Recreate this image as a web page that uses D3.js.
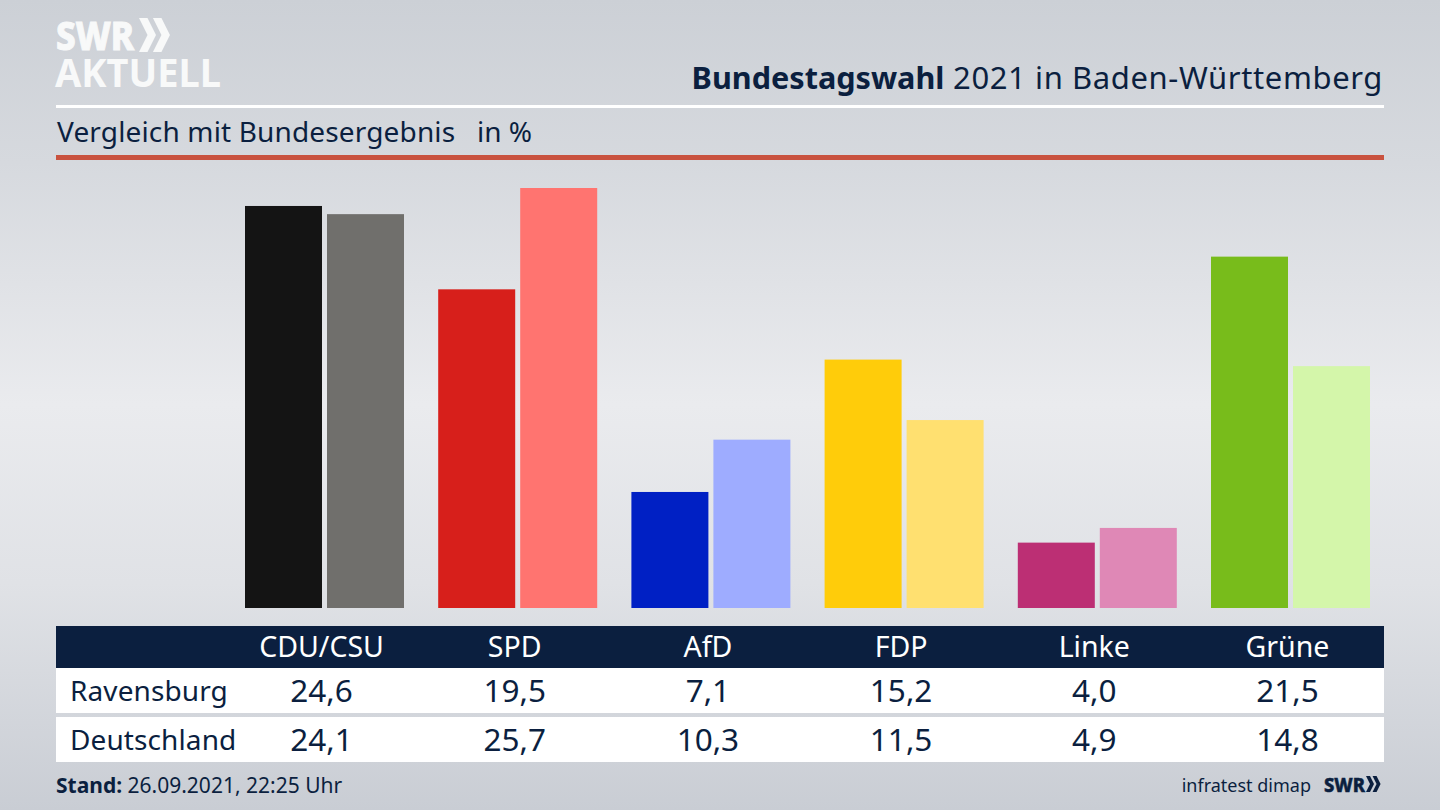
<!DOCTYPE html>
<html>
<head>
<meta charset="utf-8">
<script src="https://cdnjs.cloudflare.com/ajax/libs/d3/7.8.5/d3.min.js"></script>
<style>
html, body { margin: 0; padding: 0; background: #ccd0d7; }
svg { display: block; }
text { font-family: "Noto Sans", sans-serif; fill: #0b1f3f; }
</style>
</head>
<body>
<svg id="chart" width="1440" height="810"></svg>
<script>
var parties = ['CDU/CSU', 'SPD', 'AfD', 'FDP', 'Linke', 'Grüne'];
var ravensburg = [24.6, 19.5, 7.1, 15.2, 4.0, 21.5];
var deutschland = [24.1, 25.7, 10.3, 11.5, 4.9, 14.8];
var darkColors = ['#141414', '#d71f1b', '#0020c4', '#ffcc0a', '#bc2f74', '#78bc1b'];
var lightColors = ['#706f6c', '#ff7470', '#9eacff', '#ffe070', '#df88b6', '#d4f6aa'];
var rowNames = ['Ravensburg', 'Deutschland'];

var navy = '#0b1f3f';
var svg = d3.select('#chart');

// background, lightest just above the middle
var defs = svg.append('defs');
var grad = defs.append('linearGradient').attr('id', 'bg')
    .attr('x1', 0).attr('y1', 0).attr('x2', 0).attr('y2', 1);
[[0, '#ccd0d6'], [0.2, '#d6d9de'], [0.5, '#eaebee'], [0.72, '#e0e2e6'], [1, '#c9cdd4']].forEach(function(s) {
    grad.append('stop').attr('offset', s[0]).attr('stop-color', s[1]);
});
svg.append('rect').attr('width', 1440).attr('height', 810).attr('fill', 'url(#bg)');

// header
function drawChevrons(g, x, y, h, color) {
    var w = h * 0.25;
    var t = h * 0.25;
    [0, h * 0.41].forEach(function(dx) {
        g.append('path')
            .attr('d', 'M' + (x + dx) + ',' + y + 'h' + t + 'l' + w + ',' + (h / 2) + 'l' + (-w) + ',' + (h / 2) + 'h' + (-t) + 'l' + w + ',' + (-h / 2) + 'z')
            .attr('fill', color);
    });
}

// one text element, the two logo lines sit closer than their line boxes
var logo = svg.append('g');
var logoText = logo.append('text').style('fill', '#f8f9f9');
logoText.append('tspan').attr('x', 56).attr('y', 50).text('SWR')
    .style('font-size', '40px').style('font-weight', 800)
    .style('stroke', '#f8f9f9').style('stroke-width', '1px')
    .attr('textLength', 78).attr('lengthAdjust', 'spacingAndGlyphs');
logoText.append('tspan').attr('x', 55).attr('y', 87).text('AKTUELL')
    .style('font-size', '40px').style('font-weight', 700)
    .attr('textLength', 166).attr('lengthAdjust', 'spacingAndGlyphs');
drawChevrons(logo, 139, 18, 34, '#f8f9f9');

var title = svg.append('text').attr('x', 1383).attr('y', 89).attr('text-anchor', 'end')
    .style('font-size', '31px');
title.append('tspan').text('Bundestagswahl').style('font-weight', 700).style('font-size', '30.6px');
title.append('tspan').text(' 2021 in Baden-Württemberg').style('letter-spacing', '0.6px');

svg.append('rect').attr('x', 56).attr('y', 105).attr('width', 1328).attr('height', 3).attr('fill', '#fff');

svg.append('text').attr('x', 57).attr('y', 142).text('Vergleich mit Bundesergebnis')
    .style('font-size', '28px').style('letter-spacing', '0.15px');
svg.append('text').attr('x', 477).attr('y', 142).text('in %')
    .style('font-size', '28px');

svg.append('rect').attr('x', 56).attr('y', 155).attr('width', 1328).attr('height', 5).attr('fill', '#c9523f');

// bars
var x = d3.scalePoint().domain(parties).range([322, 1288]);
var y = d3.scaleLinear().domain([0, 25.7]).range([608, 188]);
var barWidth = 77;
var barGap = 5;

svg.append('g').selectAll('rect')
    .data(parties)
    .enter()
    .append('rect')
    .attr('x', function(d) { return x(d) - barWidth; })
    .attr('y', function(d, i) { return y(ravensburg[i]); })
    .attr('width', barWidth)
    .attr('height', function(d, i) { return y(0) - y(ravensburg[i]); })
    .attr('fill', function(d, i) { return darkColors[i]; });

svg.append('g').selectAll('rect')
    .data(parties)
    .enter()
    .append('rect')
    .attr('x', function(d) { return x(d) + barGap; })
    .attr('y', function(d, i) { return y(deutschland[i]); })
    .attr('width', barWidth)
    .attr('height', function(d, i) { return y(0) - y(deutschland[i]); })
    .attr('fill', function(d, i) { return lightColors[i]; });

// table
svg.append('rect').attr('x', 56).attr('y', 626).attr('width', 1328).attr('height', 42).attr('fill', navy);
svg.append('rect').attr('x', 56).attr('y', 668).attr('width', 1328).attr('height', 45).attr('fill', '#fff');
svg.append('rect').attr('x', 56).attr('y', 717).attr('width', 1328).attr('height', 45).attr('fill', '#fff');

svg.append('g').selectAll('text')
    .data(parties)
    .enter()
    .append('text')
    .attr('x', function(d) { return x(d) - 0.5; })
    .attr('y', 657)
    .attr('text-anchor', 'middle')
    .style('font-size', '28.5px')
    .style('fill', '#fff')
    .text(function(d) { return d; });

var fmt = function(v) { return v.toFixed(1).replace('.', ','); };
[ravensburg, deutschland].forEach(function(values, r) {
    var baseline = r === 0 ? 702 : 751;
    svg.append('text').attr('x', 70).attr('y', baseline - 1).text(rowNames[r])
        .style('font-size', '28px').style('letter-spacing', '0.1px');
    svg.append('g').selectAll('text')
        .data(values)
        .enter()
        .append('text')
        .attr('x', function(d, i) { return x(parties[i]) - 0.5; })
        .attr('y', baseline)
        .attr('text-anchor', 'middle')
        .style('font-size', '31.5px')
        .text(fmt);
});

// footer
var stand = svg.append('text').attr('x', 56).attr('y', 793).style('font-size', '21px');
stand.append('tspan').text('Stand:').style('font-weight', 700);
stand.append('tspan').text(' 26.09.2021, 22:25 Uhr');

svg.append('text').attr('x', 1311).attr('y', 792).attr('text-anchor', 'end').text('infratest dimap')
    .style('font-size', '18px');
svg.append('text').attr('x', 1324).attr('y', 792).text('SWR')
    .style('font-size', '20px').style('font-weight', 800)
    .style('stroke', navy).style('stroke-width', '0.5px')
    .attr('textLength', 41).attr('lengthAdjust', 'spacingAndGlyphs');
drawChevrons(svg, 1366, 776, 16, navy);
</script>
</body>
</html>
